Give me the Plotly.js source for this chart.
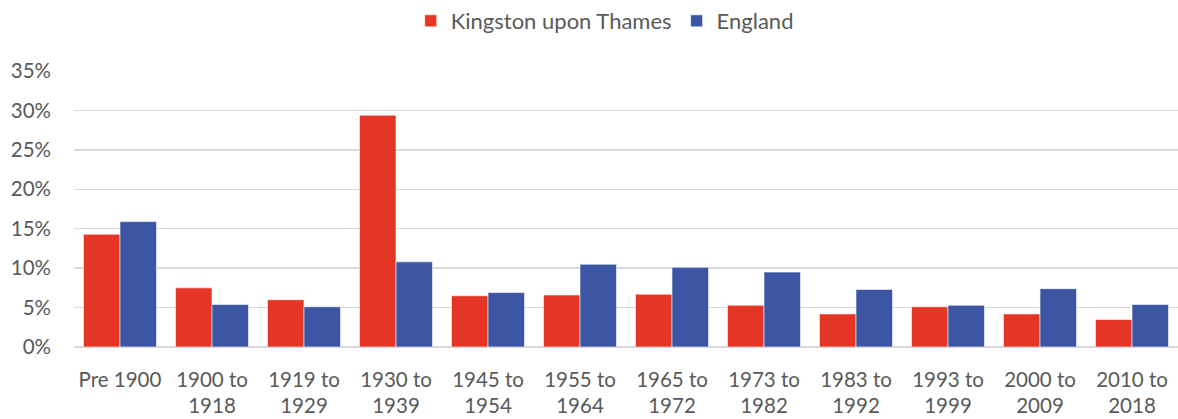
<!DOCTYPE html>
<html>
<head>
<meta charset="utf-8">
<script src="https://cdn.plot.ly/plotly-3.0.1.min.js"></script>
<style>html,body{margin:0;padding:0;background:#fff;}#chart{width:1178px;height:419px;}</style>
</head>
<body>
<div id="chart"></div>
<script>
const categories = ["Pre 1900","1900 to<br>1918","1919 to<br>1929","1930 to<br>1939","1945 to<br>1954","1955 to<br>1964","1965 to<br>1972","1973 to<br>1982","1983 to<br>1992","1993 to<br>1999","2000 to<br>2009","2010 to<br>2018"];
const kingston = [0.143,0.075,0.060,0.294,0.065,0.066,0.067,0.053,0.042,0.051,0.042,0.035];
const england  = [0.159,0.054,0.051,0.108,0.069,0.105,0.101,0.095,0.073,0.053,0.074,0.054];
const seriesNames = ["Kingston upon Thames","England"];
const tickVals = [0,0.05,0.10,0.15,0.20,0.25,0.30,0.35];

const font = {family:"Lato, 'Open Sans', sans-serif", size:20.5, color:"#595959"};
const legendFont = {family:"Lato, 'Open Sans', sans-serif", size:22, color:"#595959"};
const data = [
  {type:"bar", name:seriesNames[0], x:categories, y:kingston, marker:{color:"#E43525", line:{color:"#ffffff", width:0.6}}},
  {type:"bar", name:seriesNames[1], x:categories, y:england, marker:{color:"#3C56A4", line:{color:"#ffffff", width:0.6}}}
];
const layout = {
  width:1178, height:419,
  margin:{l:74, r:0, t:71, b:72},
  paper_bgcolor:"#fff", plot_bgcolor:"#fff",
  font: font,
  barmode:"group", bargap:0.206, bargroupgap:0,
  showlegend:true,
  legend:{orientation:"h", x:0.305, xanchor:"left", xref:"paper", y:1.0, yref:"container", yanchor:"top", font:legendFont, itemwidth:30, traceorder:"normal"},
  xaxis:{type:"category", tickfont:font, showgrid:false, zeroline:false, showline:false, ticks:"", ticklabelstandoff:18, automargin:false},
  yaxis:{range:[0,0.35], tickvals:tickVals, tickformat:".0%", tickfont:font, showgrid:true, gridcolor:"#d9d9d9", gridwidth:1.5, zeroline:true, zerolinecolor:"#d9d9d9", zerolinewidth:1.5, showline:false, ticks:"", ticklabelstandoff:22, automargin:false}
};
Plotly.newPlot("chart", data, layout, {staticPlot:true, displayModeBar:false});
</script>
</body>
</html>
